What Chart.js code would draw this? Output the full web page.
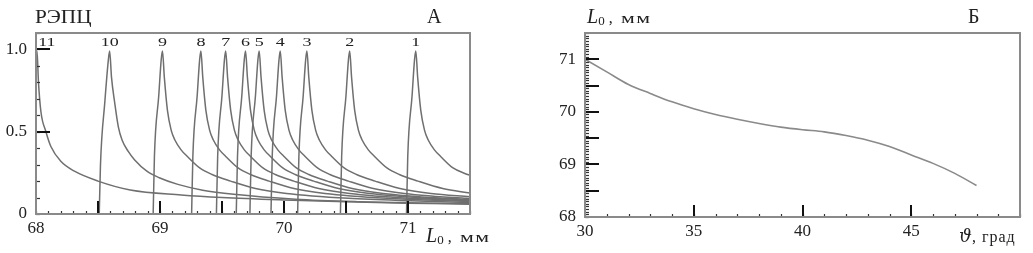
<!DOCTYPE html>
<html>
<head>
<meta charset="utf-8">
<script src="https://cdn.jsdelivr.net/npm/chart.js@4/dist/chart.umd.min.js"></script>
<style>
  html, body { margin:0; padding:0; background:#fff; }
  body { width:1033px; height:253px; position:relative; overflow:hidden; font-family:"Liberation Serif", "DejaVu Serif", serif; color:#222; }
  canvas { position:absolute; top:0; }
  #cA { left:0; }
  #cB { left:520px; }
  .t { position:absolute; white-space:nowrap; line-height:1; transform-origin:0 0; }
  .it { font-style:italic; }
  .mm { display:inline-block; font-size:15px; transform:scaleX(1.45); transform-origin:0 0; letter-spacing:1px; }
</style>
</head>
<body>
<canvas id="cA" width="520" height="253"></canvas>
<canvas id="cB" width="513" height="253"></canvas>

<div class="t" style="left:35px; top:8px; font-size:18px; transform:scaleX(1.18);">РЭПЦ</div>
<div class="t" style="left:427px; top:6px; font-size:20px;">А</div>
<div class="t" style="left:968px; top:6px; font-size:20px;">Б</div>

<div class="t" style="left:426px; top:225px; font-size:20px;"><span class="it">L</span><span style="font-size:13px; vertical-align:-2px;">0</span><span style="font-size:16px;">&nbsp;,&nbsp;&nbsp;<span class="mm">мм</span></span></div>
<div class="t" style="left:587px; top:6px; font-size:20px;"><span class="it">L</span><span style="font-size:13px; vertical-align:-2px;">0</span><span style="font-size:16px;">&nbsp;,&nbsp;&nbsp;<span class="mm">мм</span></span></div>
<div class="t" style="left:959px; top:225px; font-size:20px;"><span class="it" style="font-family:'DejaVu Serif', serif; font-size:18px;">ϑ</span><span style="font-size:16px; letter-spacing:1px;">, град</span></div>

<script>
// ---------- Panel A data: РЭПЦ vs L0 (mm), 11 resonance curves ----------
const peakLabels = ['1','2','3','4','5','6','7','8','9','10','11'];
const peakPositions = [71.063, 70.53, 70.185, 69.97, 69.80, 69.69, 69.53, 69.33, 69.02, 68.594, 68.01];

const curve1 = [[70.988,0],[70.998,0.35],[71.033,0.72],[71.053,0.94],[71.063,0.99],[71.078,0.83],[71.103,0.63],[71.133,0.51],[71.163,0.45],[71.213,0.39],[71.263,0.35],[71.363,0.28],[71.463,0.245],[71.5,0.235]];
const curve2 = [[70.455,0],[70.465,0.35],[70.50,0.72],[70.52,0.94],[70.53,0.99],[70.545,0.83],[70.57,0.63],[70.60,0.51],[70.63,0.45],[70.68,0.39],[70.73,0.35],[70.83,0.28],[70.93,0.24],[71.08,0.20],[71.28,0.155],[71.5,0.127]];
const curve3 = [[70.11,0],[70.12,0.35],[70.155,0.72],[70.175,0.94],[70.185,0.99],[70.20,0.83],[70.225,0.63],[70.255,0.51],[70.285,0.45],[70.335,0.39],[70.385,0.35],[70.485,0.28],[70.585,0.24],[70.735,0.20],[70.935,0.155],[71.185,0.125],[71.5,0.105]];
const curve4 = [[69.895,0],[69.905,0.35],[69.94,0.72],[69.96,0.94],[69.97,0.99],[69.985,0.83],[70.01,0.63],[70.04,0.51],[70.07,0.45],[70.12,0.39],[70.17,0.35],[70.27,0.28],[70.37,0.24],[70.52,0.20],[70.72,0.155],[70.97,0.125],[71.47,0.095],[71.5,0.094]];
const curve5 = [[69.725,0],[69.735,0.35],[69.77,0.72],[69.79,0.94],[69.80,0.99],[69.815,0.83],[69.84,0.63],[69.87,0.51],[69.90,0.45],[69.95,0.39],[70.00,0.35],[70.10,0.28],[70.20,0.24],[70.35,0.20],[70.55,0.155],[70.80,0.125],[71.30,0.095],[71.5,0.088]];
const curve6 = [[69.615,0],[69.625,0.35],[69.66,0.72],[69.68,0.94],[69.69,0.99],[69.705,0.83],[69.73,0.63],[69.76,0.51],[69.79,0.45],[69.84,0.39],[69.89,0.35],[69.99,0.28],[70.09,0.24],[70.24,0.20],[70.44,0.155],[70.69,0.125],[71.19,0.095],[71.5,0.085]];
const curve7 = [[69.455,0],[69.465,0.35],[69.50,0.72],[69.52,0.94],[69.53,0.99],[69.545,0.83],[69.57,0.63],[69.60,0.51],[69.63,0.45],[69.68,0.39],[69.73,0.35],[69.83,0.28],[69.93,0.24],[70.08,0.20],[70.28,0.155],[70.53,0.125],[71.03,0.095],[71.5,0.08]];
const curve8 = [[69.255,0],[69.265,0.35],[69.30,0.72],[69.32,0.94],[69.33,0.99],[69.345,0.83],[69.37,0.63],[69.40,0.51],[69.43,0.45],[69.48,0.39],[69.53,0.35],[69.63,0.28],[69.73,0.24],[69.88,0.20],[70.08,0.155],[70.33,0.125],[70.83,0.095],[71.33,0.08],[71.5,0.076]];
const curve9 = [[68.945,0],[68.955,0.35],[68.99,0.72],[69.01,0.94],[69.02,0.99],[69.035,0.83],[69.06,0.63],[69.09,0.51],[69.12,0.45],[69.17,0.39],[69.22,0.35],[69.32,0.28],[69.42,0.24],[69.57,0.20],[69.77,0.155],[70.02,0.125],[70.52,0.095],[71.02,0.08],[71.5,0.07]];
const curve10 = [[68.51,0],[68.52,0.30],[68.555,0.68],[68.584,0.94],[68.594,0.99],[68.609,0.83],[68.634,0.68],[68.664,0.53],[68.694,0.45],[68.744,0.38],[68.794,0.33],[68.894,0.26],[68.994,0.22],[69.144,0.18],[69.344,0.145],[69.594,0.12],[70.094,0.09],[70.594,0.075],[71.094,0.067],[71.5,0.062]];
const curve11 = [[68.0,0.97],[68.008,0.99],[68.02,0.80],[68.04,0.62],[68.08,0.50],[68.12,0.41],[68.20,0.32],[68.31,0.26],[68.50,0.20],[68.76,0.146],[69.17,0.116],[69.50,0.10],[70.0,0.085],[70.5,0.074],[71.0,0.066],[71.5,0.06]];
const curvesA = [curve1, curve2, curve3, curve4, curve5, curve6, curve7, curve8, curve9, curve10, curve11];

const xTicksA = [68, 69, 70, 71];
const yTicksA = [0, 0.5, 1.0];

// ---------- Panel Б data: L0 (mm) vs angle ϑ (deg) ----------
const thetaValues = [30,31,32,33,34,35,36,37,38,39,40,41,42,43,44,45,46,47,48];
const l0Values = [71.0,70.76,70.52,70.35,70.19,70.06,69.95,69.86,69.78,69.71,69.66,69.62,69.55,69.46,69.34,69.18,69.02,68.83,68.6];
const xTicksB = [30, 35, 40, 45];
const yTicksB = [68, 69, 70, 71];

// ---------- helpers ----------
const FONT = { family: '"Liberation Serif", "DejaVu Serif", serif', size: 17 };
const TXT = '#222';
const FRAME = '#8a8a8a';
const TICK = '#333';

function range(a, b, step) { const r = []; for (let v = a; v <= b + 1e-9; v += step) r.push(+v.toFixed(4)); return r; }

const frameTicks = {
  id: 'frameTicks',
  afterDatasetsDraw(chart, args, o) {
    const { ctx, chartArea: a, scales: { x, y } } = chart;
    ctx.save();
    ctx.lineCap = 'butt';
    const seg = (x1, y1, x2, y2, w, c) => { ctx.strokeStyle = c; ctx.lineWidth = w; ctx.beginPath(); ctx.moveTo(x1, y1); ctx.lineTo(x2, y2); ctx.stroke(); };
    o.xMinor.forEach(v => { const p = Math.round(x.getPixelForValue(v)) + 0.5; seg(p, a.bottom, p, a.bottom - o.xMinorLen, 1.2, TICK); });
    o.xMajor.forEach(v => { const p = Math.round(x.getPixelForValue(v)); seg(p, a.bottom, p, a.bottom - o.xMajorLen, 2, '#111'); });
    o.yMinor.forEach(v => { const p = Math.round(y.getPixelForValue(v)) + 0.5; seg(a.left, p, a.left + o.yMinorLen, p, 1.2, TICK); });
    o.yMajor.forEach(v => { const p = Math.round(y.getPixelForValue(v)); seg(a.left, p, a.left + o.yMajorLen, p, 2, '#111'); });
    ctx.strokeStyle = FRAME; ctx.lineWidth = 2;
    ctx.strokeRect(a.left, a.top, a.right - a.left, a.bottom - a.top);
    if (o.peaks) {
      ctx.fillStyle = TXT;
      ctx.font = '15px "Liberation Serif", serif';
      ctx.textBaseline = 'alphabetic';
      o.peaks.forEach((v, i) => {
        const p = x.getPixelForValue(v);
        const edge = p - a.left < 8;
        ctx.save();
        ctx.translate(edge ? p + 1 : p, a.top + 13);
        ctx.scale(1.2, 0.9);
        ctx.textAlign = edge ? 'left' : 'center';
        ctx.fillText(o.labels[i], 0, 0);
        ctx.restore();
      });
    }
    ctx.restore();
  }
};

function fixedAxis(w, h) {
  return (s) => { if (w != null) s.width = w; if (h != null) s.height = h; };
}

// ---------- Chart A ----------
new Chart(document.getElementById('cA'), {
  type: 'line',
  data: {
    datasets: curvesA.map((c, i) => ({
      label: peakLabels[i],
      data: c.map(p => ({ x: p[0], y: p[1] })),
      borderColor: '#6f6f6f',
      borderWidth: 1.5,
      pointRadius: 0,
      fill: false,
      cubicInterpolationMode: 'monotone'
    }))
  },
  options: {
    responsive: false,
    animation: false,
    layout: { padding: { top: 33, right: 50, left: 0, bottom: 0 } },
    plugins: {
      legend: { display: false }, tooltip: { enabled: false },
      frameTicks: {
        xMinor: range(68, 71.5, 0.1), xMinorLen: 3,
        xMajor: range(68.5, 71, 0.5), xMajorLen: 13,
        yMinor: range(0, 1.1, 0.1), yMinorLen: 4,
        yMajor: [0.5, 1.0], yMajorLen: 14,
        peaks: peakPositions, labels: peakLabels
      }
    },
    scales: {
      x: {
        type: 'linear', min: 68, max: 71.5,
        afterBuildTicks: s => { s.ticks = xTicksA.map(v => ({ value: v })); },
        afterFit: fixedAxis(null, 39),
        grid: { display: false, drawTicks: false }, border: { display: false },
        ticks: { font: FONT, color: TXT, padding: 4, autoSkip: false, maxRotation: 0, callback: v => String(v) }
      },
      y: {
        type: 'linear', min: 0, max: 1.1,
        afterBuildTicks: s => { s.ticks = yTicksA.map(v => ({ value: v })); },
        afterFit: fixedAxis(36, null),
        grid: { display: false, drawTicks: false }, border: { display: false },
        ticks: { font: FONT, color: TXT, padding: 9, autoSkip: false, callback: v => (v === 0 ? '0' : v.toFixed(1)) }
      }
    }
  },
  plugins: [frameTicks]
});

// ---------- Chart Б ----------
new Chart(document.getElementById('cB'), {
  type: 'line',
  data: {
    datasets: [{
      label: 'L0',
      data: thetaValues.map((t, i) => ({ x: t, y: l0Values[i] })),
      borderColor: '#8a8a8a',
      borderWidth: 1.6,
      pointRadius: 0,
      fill: false,
      cubicInterpolationMode: 'monotone'
    }]
  },
  options: {
    responsive: false,
    animation: false,
    layout: { padding: { top: 33, right: 13, left: 0, bottom: 0 } },
    plugins: {
      legend: { display: false }, tooltip: { enabled: false },
      frameTicks: {
        xMinor: range(30, 50, 1), xMinorLen: 3,
        xMajor: [35, 40, 45], xMajorLen: 12,
        yMinor: range(68, 71.5, 0.05), yMinorLen: 4,
        yMajor: range(68.5, 71.5, 0.5), yMajorLen: 14
      }
    },
    scales: {
      x: {
        type: 'linear', min: 30, max: 50,
        afterBuildTicks: s => { s.ticks = xTicksB.map(v => ({ value: v })); },
        afterFit: fixedAxis(null, 36),
        grid: { display: false, drawTicks: false }, border: { display: false },
        ticks: { font: FONT, color: TXT, padding: 4, autoSkip: false, maxRotation: 0, callback: v => String(v) }
      },
      y: {
        type: 'linear', min: 68, max: 71.5,
        afterBuildTicks: s => { s.ticks = yTicksB.map(v => ({ value: v })); },
        afterFit: fixedAxis(65, null),
        grid: { display: false, drawTicks: false }, border: { display: false },
        ticks: { font: FONT, color: TXT, padding: 9, autoSkip: false, callback: v => String(v) }
      }
    }
  },
  plugins: [frameTicks]
});
</script>
</body>
</html>
